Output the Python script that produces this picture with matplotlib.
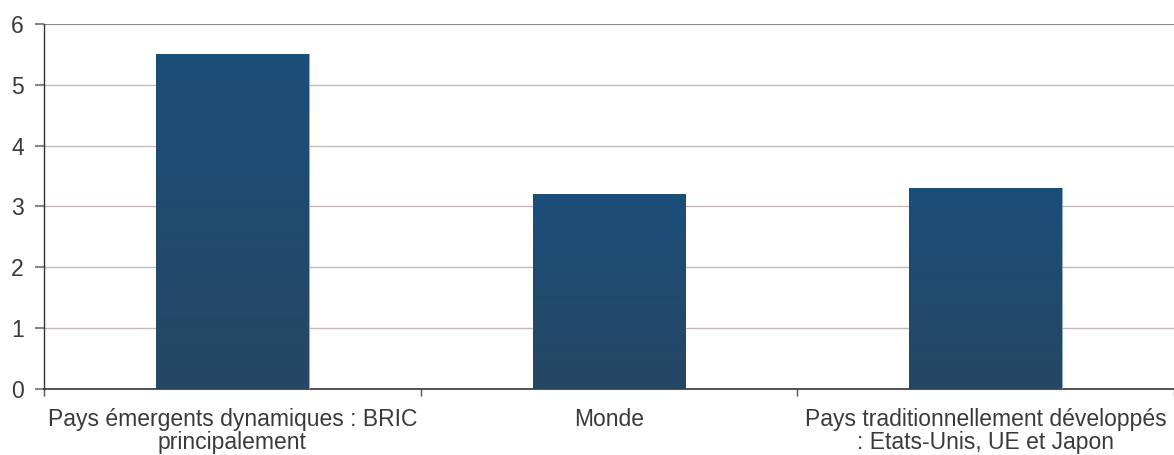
import matplotlib.pyplot as plt
import numpy as np
from matplotlib.colors import LinearSegmentedColormap

plt.rcParams['font.family'] = ['Liberation Sans', 'DejaVu Sans']

categories = ['Pays émergents dynamiques : BRIC\nprincipalement',
              'Monde',
              'Pays traditionnellement développés\n: Etats-Unis, UE et Japon']
values = [5.5, 3.2, 3.3]
yticks = [0, 1, 2, 3, 4, 5, 6]

fig = plt.figure(figsize=(11.74, 4.55), dpi=100)
ax = fig.add_axes([44 / 1174, 1 - 389 / 455, 1 - 44 / 1174, (389 - 24) / 455])

x = np.arange(len(values))
bars = ax.bar(x, values, width=0.405, color='#1d4d76', edgecolor='#8fb0d0',
              linewidth=0.6, zorder=3)

# dégradé vertical dans chaque barre
cmap = LinearSegmentedColormap.from_list('barre', ['#264763', '#1b4e7a'])
grad = np.linspace(0, 1, 256).reshape(-1, 1)
for b in bars:
    x0, y0 = b.get_x(), b.get_y()
    im = ax.imshow(grad, cmap=cmap, aspect='auto', origin='lower',
                   extent=[x0, x0 + b.get_width(), y0, y0 + b.get_height()],
                   zorder=3.5)
    im.set_clip_path(b)

ax.set_xlim(-0.5, 2.5)
ax.set_ylim(0, 6)
ax.set_yticks(yticks)
ax.set_xticks(x)
ax.set_xticklabels(categories, fontsize=16.5, color='#3a3a3a', linespacing=0.98)
ax.tick_params(axis='x', length=0, pad=14)
ax.set_xticks([-0.5, 0.5, 1.5, 2.5], minor=True)
ax.tick_params(axis='x', which='minor', length=5, color='#555555', width=1)
ax.tick_params(axis='y', length=6.5, color='#888888', width=1.5, pad=8,
               labelsize=16.5, labelcolor='#3a3a3a')

for v in yticks[1:-1]:
    ax.axhline(v, color='#c4b8b8', linewidth=1, zorder=1)
ax.axhline(6, color='#888888', linewidth=1.5, zorder=1)

for s in ['top', 'right']:
    ax.spines[s].set_visible(False)
ax.spines['left'].set_color('#333333')
ax.spines['bottom'].set_color('#333333')
ax.spines['left'].set_linewidth(1)
ax.spines['bottom'].set_linewidth(1.2)

fig.savefig('out.png', dpi=100)
